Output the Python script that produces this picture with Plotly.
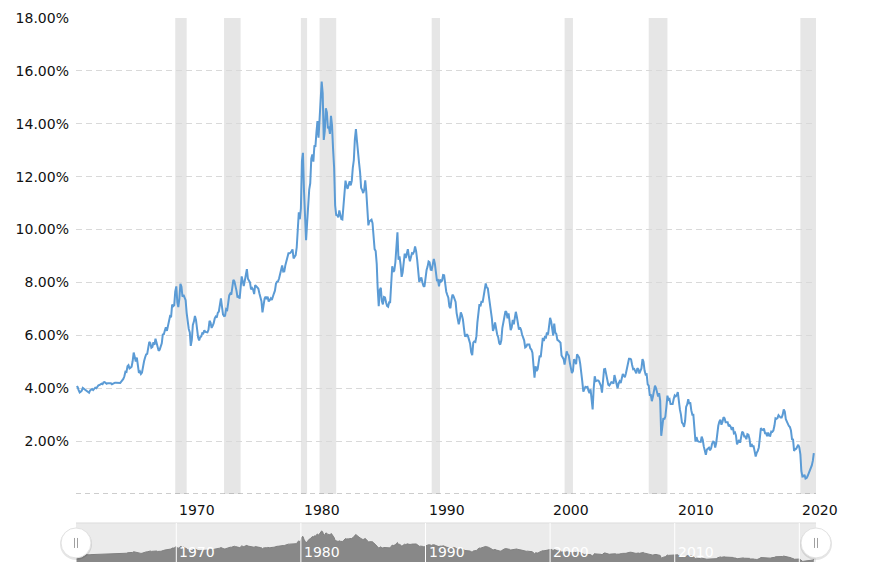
import pandas as pd
import plotly.graph_objects as go

# 10-year treasury yield (%), monthly, starting Jan 1962
yields = [
    # 1962
    4.08, 4.04, 3.93, 3.84, 3.87, 3.91, 4.01, 3.98, 3.98, 3.93, 3.92, 3.86,
    # 1963
    3.83, 3.92, 3.93, 3.97, 3.93, 3.99, 4.02, 4.00, 4.08, 4.11, 4.12, 4.13,
    # 1964
    4.17, 4.15, 4.22, 4.23, 4.20, 4.17, 4.19, 4.19, 4.20, 4.19, 4.15, 4.18,
    # 1965
    4.19, 4.21, 4.21, 4.20, 4.21, 4.21, 4.20, 4.25, 4.29, 4.35, 4.45, 4.62,
    # 1966
    4.61, 4.83, 4.87, 4.75, 4.78, 4.81, 5.02, 5.35, 5.18, 5.01, 5.16, 4.84,
    # 1967
    4.58, 4.63, 4.54, 4.59, 4.85, 5.02, 5.16, 5.28, 5.30, 5.48, 5.75, 5.70,
    # 1968
    5.53, 5.56, 5.74, 5.64, 5.87, 5.72, 5.50, 5.42, 5.46, 5.58, 5.70, 6.03,
    # 1969
    6.04, 6.19, 6.30, 6.17, 6.32, 6.57, 6.72, 6.69, 7.16, 7.10, 7.14, 7.65,
    # 1970
    7.85, 7.24, 7.07, 7.39, 7.95, 7.84, 7.46, 7.53, 7.39, 7.33, 6.84, 6.39,
    # 1971
    6.24, 6.11, 5.60, 5.83, 6.39, 6.52, 6.73, 6.58, 6.14, 5.93, 5.81, 5.93,
    # 1972
    5.95, 6.08, 6.07, 6.19, 6.13, 6.11, 6.11, 6.21, 6.55, 6.48, 6.28, 6.36,
    # 1973
    6.46, 6.64, 6.71, 6.67, 6.85, 6.90, 7.13, 7.40, 7.09, 6.79, 6.73, 6.74,
    # 1974
    6.99, 6.96, 7.21, 7.51, 7.58, 7.54, 7.81, 8.10, 8.04, 7.90, 7.68, 7.43,
    # 1975
    7.50, 7.39, 7.73, 8.23, 8.06, 7.86, 8.06, 8.40, 8.50, 8.14, 8.05, 8.00,
    # 1976
    7.74, 7.79, 7.73, 7.56, 7.90, 7.86, 7.83, 7.77, 7.59, 7.41, 7.29, 6.87,
    # 1977
    7.21, 7.39, 7.46, 7.37, 7.46, 7.28, 7.33, 7.40, 7.34, 7.52, 7.58, 7.69,
    # 1978
    7.96, 8.03, 8.04, 8.15, 8.35, 8.46, 8.64, 8.41, 8.42, 8.64, 8.81, 9.01,
    # 1979
    9.10, 9.10, 9.12, 9.18, 9.25, 8.91, 8.95, 9.03, 9.33, 10.30, 10.65, 10.39,
    # 1980
    10.80, 12.60, 12.90, 11.47, 10.18, 9.60, 10.25, 11.10, 11.51, 11.75, 12.68, 12.84,
    # 1981
    12.57, 13.19, 13.12, 13.68, 14.10, 13.47, 14.28, 14.94, 15.60, 15.15, 13.39, 13.72,
    # 1982
    14.59, 14.43, 13.86, 13.87, 13.62, 14.30, 13.95, 13.06, 12.34, 10.91, 10.55, 10.54,
    # 1983
    10.46, 10.72, 10.51, 10.40, 10.38, 10.85, 11.38, 11.85, 11.65, 11.54, 11.69, 11.83,
    # 1984
    11.67, 11.84, 12.32, 12.63, 13.41, 13.80, 13.36, 12.72, 12.52, 12.16, 11.57, 11.50,
    # 1985
    11.38, 11.51, 11.86, 11.43, 10.85, 10.16, 10.31, 10.33, 10.37, 10.24, 9.78, 9.26,
    # 1986
    9.19, 8.70, 7.78, 7.10, 7.71, 7.80, 7.30, 7.17, 7.45, 7.43, 7.25, 7.11,
    # 1987
    7.08, 7.25, 7.25, 8.02, 8.61, 8.40, 8.45, 8.76, 9.42, 9.90, 8.86, 8.99,
    # 1988
    8.67, 8.21, 8.37, 8.72, 9.09, 8.92, 9.06, 9.26, 8.98, 8.80, 8.96, 9.11,
    # 1989
    9.09, 9.17, 9.36, 9.18, 8.86, 8.28, 8.02, 8.11, 8.19, 8.01, 7.87, 7.84,
    # 1990
    8.21, 8.47, 8.59, 8.79, 8.76, 8.48, 8.47, 8.75, 8.89, 8.72, 8.39, 8.08,
    # 1991
    8.09, 7.85, 8.11, 8.04, 8.07, 8.28, 8.27, 7.90, 7.65, 7.53, 7.42, 7.09,
    # 1992
    7.03, 7.34, 7.54, 7.48, 7.39, 7.26, 6.84, 6.59, 6.42, 6.59, 6.87, 6.77,
    # 1993
    6.60, 6.26, 5.98, 5.97, 6.04, 5.96, 5.81, 5.68, 5.36, 5.25, 5.72, 5.77,
    # 1994
    5.75, 5.97, 6.48, 6.97, 7.18, 7.10, 7.30, 7.24, 7.46, 7.74, 7.96, 7.81,
    # 1995
    7.78, 7.47, 7.20, 7.06, 6.63, 6.17, 6.28, 6.49, 6.20, 6.04, 5.93, 5.71,
    # 1996
    5.65, 5.81, 6.27, 6.51, 6.74, 6.91, 6.87, 6.64, 6.83, 6.53, 6.20, 6.30,
    # 1997
    6.58, 6.42, 6.69, 6.89, 6.71, 6.49, 6.22, 6.30, 6.21, 6.03, 5.88, 5.81,
    # 1998
    5.54, 5.57, 5.65, 5.64, 5.65, 5.50, 5.46, 5.34, 4.81, 4.40, 4.83, 4.65,
    # 1999
    4.72, 5.00, 5.23, 5.18, 5.54, 5.90, 5.79, 5.94, 5.92, 6.11, 6.03, 6.28,
    # 2000
    6.66, 6.52, 6.26, 5.99, 6.44, 6.10, 6.05, 5.83, 5.80, 5.74, 5.72, 5.24,
    # 2001
    5.16, 5.10, 4.89, 5.14, 5.39, 5.28, 5.24, 4.97, 4.73, 4.57, 4.65, 5.09,
    # 2002
    5.04, 4.91, 5.28, 5.21, 5.16, 4.93, 4.65, 4.26, 3.87, 3.94, 4.05, 4.03,
    # 2003
    4.05, 3.90, 3.81, 3.96, 3.57, 3.20, 3.98, 4.45, 4.27, 4.29, 4.30, 4.27,
    # 2004
    4.15, 4.08, 3.83, 4.35, 4.72, 4.73, 4.50, 4.28, 4.13, 4.10, 4.19, 4.23,
    # 2005
    4.22, 4.17, 4.50, 4.34, 4.14, 4.00, 4.18, 4.26, 4.20, 4.46, 4.54, 4.47,
    # 2006
    4.42, 4.57, 4.72, 4.99, 5.11, 5.11, 5.09, 4.88, 4.72, 4.73, 4.60, 4.56,
    # 2007
    4.76, 4.72, 4.56, 4.69, 4.75, 5.10, 5.00, 4.67, 4.52, 4.53, 4.15, 4.10,
    # 2008
    3.74, 3.74, 3.51, 3.68, 3.88, 4.10, 4.01, 3.89, 3.69, 3.81, 3.53, 2.20,
    # 2009
    2.52, 2.87, 2.82, 2.93, 3.29, 3.72, 3.56, 3.59, 3.40, 3.39, 3.40, 3.59,
    # 2010
    3.73, 3.69, 3.73, 3.85, 3.42, 3.20, 3.01, 2.70, 2.65, 2.54, 2.76, 3.29,
    # 2011
    3.39, 3.58, 3.41, 3.46, 3.17, 3.00, 3.00, 2.30, 1.98, 2.15, 2.01, 1.98,
    # 2012
    1.97, 1.97, 2.17, 2.05, 1.80, 1.62, 1.48, 1.68, 1.72, 1.75, 1.65, 1.72,
    # 2013
    1.91, 1.98, 1.96, 1.76, 1.93, 2.30, 2.58, 2.74, 2.81, 2.62, 2.72, 2.90,
    # 2014
    2.86, 2.71, 2.72, 2.71, 2.56, 2.60, 2.54, 2.42, 2.53, 2.30, 2.33, 2.21,
    # 2015
    1.88, 1.98, 2.04, 1.94, 2.20, 2.36, 2.32, 2.17, 2.17, 2.07, 2.26, 2.24,
    # 2016
    2.09, 1.78, 1.89, 1.81, 1.81, 1.64, 1.42, 1.56, 1.63, 1.76, 2.14, 2.49,
    # 2017
    2.43, 2.42, 2.48, 2.30, 2.30, 2.19, 2.32, 2.21, 2.20, 2.36, 2.35, 2.40,
    # 2018
    2.58, 2.86, 2.84, 2.87, 2.98, 2.91, 2.89, 2.89, 3.00, 3.20, 3.12, 2.83,
    # 2019
    2.71, 2.68, 2.57, 2.53, 2.40, 2.07, 2.06, 1.63, 1.70, 1.71, 1.81, 1.86,
    # 2020
    1.76, 1.50, 0.87, 0.66, 0.67, 0.73, 0.58, 0.60, 0.68, 0.79, 0.87, 0.93,
    # 2021
    1.08, 1.26, 1.55,
]
dates = pd.date_range("1962-01-01", periods=len(yields), freq="MS")

recession_starts = ["1969-12-01", "1973-11-01", "1980-01-01", "1981-07-01",
                    "1990-07-01", "2001-03-01", "2007-12-01", "2020-02-01"]
recession_ends = ["1970-11-01", "1975-03-01", "1980-07-01", "1982-11-01",
                  "1991-03-01", "2001-11-01", "2009-06-01", "2021-05-04"]

y_ticks = [2, 4, 6, 8, 10, 12, 14, 16, 18]
y_labels = [f"{v:.2f}%" for v in y_ticks]
x_years = [1970, 1980, 1990, 2000, 2010, 2020]
x_range = ["1961-12-14", "2021-05-04"]

LINE = "#5B9BD5"
FONT = "DejaVu Sans"
FS = 14

fig = go.Figure()
fig.add_trace(go.Scatter(x=dates, y=yields, mode="lines",
                         line=dict(color=LINE, width=2), xaxis="x", yaxis="y",
                         hoverinfo="skip", showlegend=False))
fig.add_trace(go.Scatter(x=dates, y=yields, mode="lines", fill="tozeroy",
                         fillcolor="#888888", line=dict(color="#808080", width=1),
                         xaxis="x2", yaxis="y2", hoverinfo="skip", showlegend=False))

NAV_TOP = 0.0717
shapes = []
for s, e in zip(recession_starts, recession_ends):
    shapes.append(dict(type="rect", xref="x", yref="y", x0=s, x1=e, y0=0, y1=18,
                       fillcolor="#e6e6e6", line=dict(width=0), layer="below"))
# zero line (dashed)
shapes.append(dict(type="line", xref="paper", yref="y", x0=0, x1=1, y0=0, y1=0,
                   line=dict(color="#9a9a9a", width=1, dash="5px,4px"), layer="above"))
# navigator background
shapes.append(dict(type="rect", xref="paper", yref="paper", x0=0, x1=1, y0=0, y1=NAV_TOP,
                   fillcolor="#ebebeb", line=dict(width=0), layer="below"))
shapes.append(dict(type="line", xref="paper", yref="paper", x0=0, x1=1, y0=NAV_TOP, y1=NAV_TOP,
                   line=dict(color="#dddddd", width=1), layer="above"))
for yr in x_years:
    shapes.append(dict(type="line", xref="x2", yref="paper", x0=f"{yr}-01-01", x1=f"{yr}-01-01",
                       y0=0, y1=NAV_TOP, line=dict(color="white", width=1), layer="above"))

yc = 0.035
for xp in (0, 1):
    shapes.append(dict(type="circle", xref="paper", yref="paper", xsizemode="pixel", ysizemode="pixel",
                       xanchor=xp, yanchor=yc, x0=-16, x1=16, y0=-17, y1=15,
                       fillcolor="rgba(0,0,0,0.10)", line=dict(width=0), layer="above"))
    shapes.append(dict(type="circle", xref="paper", yref="paper", xsizemode="pixel", ysizemode="pixel",
                       xanchor=xp, yanchor=yc, x0=-15, x1=15, y0=-15, y1=15,
                       fillcolor="white", line=dict(color="#e2e2e2", width=1), layer="above"))
    for dx in (-1.5, 1.5):
        shapes.append(dict(type="line", xref="paper", yref="paper", xsizemode="pixel", ysizemode="pixel",
                           xanchor=xp, yanchor=yc, x0=dx, x1=dx, y0=-5, y1=5,
                           line=dict(color="#a0a0a0", width=1), layer="above"))

annotations = []
for yr in x_years[:-1]:
    annotations.append(dict(x=f"{yr}-01-01", y=yc, xref="x2", yref="paper", text=str(yr),
                            showarrow=False, xanchor="left", yanchor="middle", xshift=1, yshift=-9,
                            font=dict(family=FONT, size=FS, color="white")))
# main x tick labels (left-aligned at ticks)
for yr in x_years:
    annotations.append(dict(x=f"{yr}-01-01", y=0.125, xref="x", yref="paper", text=str(yr),
                            showarrow=False, xanchor="left", yanchor="middle", xshift=1, yshift=-16,
                            font=dict(family=FONT, size=FS, color="#111111")))

# page body has an 8px default margin; figure sized to fill the rest of the window
fig.update_layout(
    width=881, height=573, autosize=False,
    margin=dict(l=68, r=73, t=10, b=19, autoexpand=False),
    paper_bgcolor="white", plot_bgcolor="white",
    font=dict(family=FONT, size=FS, color="#222222"),
    showlegend=False,
    shapes=shapes, annotations=annotations,
    xaxis=dict(domain=[0, 1], anchor="y", type="date", range=x_range,
               showticklabels=False, showgrid=False, zeroline=False,
               showline=False, ticks=""),
    yaxis=dict(domain=[0.125, 1], anchor="x", range=[0, 18],
               tickvals=y_ticks, ticktext=y_labels, showgrid=True,
               gridcolor="#d9d9d9", griddash="6px,4px", gridwidth=1, zeroline=False,
               showline=False, ticks="", ticklabelstandoff=6,
               tickfont=dict(family=FONT, size=FS, color="#111111")),
    xaxis2=dict(domain=[0, 1], anchor="y2", type="date", range=x_range,
                showticklabels=False, showgrid=False, zeroline=False, showline=False, ticks=""),
    yaxis2=dict(domain=[0, NAV_TOP], anchor="x2", range=[0.3, 19.5], visible=False,
                showgrid=False, zeroline=False),
)

fig.write_html("out.html")
